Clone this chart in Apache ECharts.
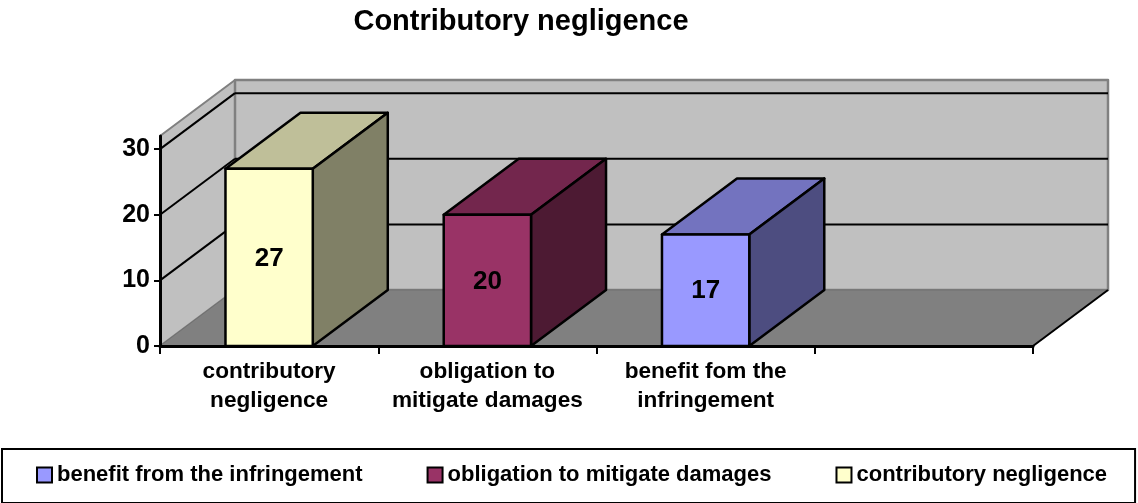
<!DOCTYPE html>
<html>
<head>
<meta charset="utf-8">
<style>
  html, body { margin: 0; padding: 0; background: #fff; }
  #chart { width: 1138px; height: 503px; }
</style>
<script src="https://cdn.jsdelivr.net/npm/echarts@6/dist/echarts.min.js"></script>
</head>
<body>
<div id="chart"></div>
<script>
const categories = ['contributory\nnegligence', 'obligation to\nmitigate damages', 'benefit fom the\ninfringement', '']
const yTicks = [0, 10, 20, 30]
const yTop = 32
const contributory = [27]
const obligation = [20]
const benefit = [17]

// offset of the back plane from the front plane, px
const DX = 75
const DY = -56
const FONT = '"Liberation Sans", Arial, sans-serif'

const chart = echarts.init(document.getElementById('chart'))

function shade(color, k) {
  const c = echarts.color.parse(color)
  return 'rgb(' + Math.round(c[0] * k) + ',' + Math.round(c[1] * k) + ',' + Math.round(c[2] * k) + ')'
}

function poly(points, fill, stroke, width) {
  return {
    type: 'polygon',
    shape: { points: points },
    style: { fill: fill, stroke: stroke, lineWidth: width, lineJoin: 'round' }
  }
}

function line(a, b, color, width) {
  return {
    type: 'line',
    shape: { x1: a[0], y1: a[1], x2: b[0], y2: b[1] },
    style: { stroke: color, lineWidth: width }
  }
}

function renderWalls(params, api) {
  const rect = params.coordSys
  const left = rect.x
  const right = rect.x + rect.width
  const y0 = api.coord([0, 0])[1]
  const y1 = api.coord([0, api.value(0)])[1]
  return {
    type: 'group',
    children: [
      poly([[left, y0], [left + DX, y0 + DY], [left + DX, y1 + DY], [left, y1]], '#c0c0c0', '#808080', 2),
      poly([[left + DX, y0 + DY], [right + DX, y0 + DY], [right + DX, y1 + DY], [left + DX, y1 + DY]], '#c0c0c0', '#808080', 2.5),
      poly([[left, y0], [right, y0], [right + DX, y0 + DY], [left + DX, y0 + DY]], '#808080', '#707070', 1),
      line([right, y0], [right + DX, y0 + DY], '#000', 2)
    ]
  }
}

function renderGridLine(params, api) {
  const rect = params.coordSys
  const y = api.coord([0, api.value(0)])[1]
  return {
    type: 'group',
    children: [
      line([rect.x, y], [rect.x + DX, y + DY], '#000', 2),
      line([rect.x + DX, y + DY], [rect.x + rect.width + DX, y + DY], '#000', 2)
    ]
  }
}

function renderBar(params, api) {
  const top = api.coord([api.value(0), api.value(1)])
  const base = api.coord([api.value(0), 0])
  const w = api.size([1, 0])[0] * 0.4
  const l = top[0] - w / 2
  const r = top[0] + w / 2
  const color = api.visual('color')
  return {
    type: 'group',
    children: [
      poly([[l, top[1]], [r, top[1]], [r + DX, top[1] + DY], [l + DX, top[1] + DY]], shade(color, 0.75), '#000', 2.5),
      poly([[r, top[1]], [r + DX, top[1] + DY], [r + DX, base[1] + DY], [r, base[1]]], shade(color, 0.5), '#000', 2.5),
      poly([[l, base[1]], [r, base[1]], [r, top[1]], [l, top[1]]], color, '#000', 2.5),
      {
        type: 'text',
        style: {
          x: top[0],
          y: (top[1] + base[1]) / 2 + 1,
          text: String(api.value(1)),
          fill: '#000',
          font: 'bold 26px ' + FONT,
          align: 'center',
          verticalAlign: 'middle'
        }
      }
    ]
  }
}

function barSeries(name, index, values, color) {
  return {
    name: name,
    type: 'custom',
    renderItem: renderBar,
    itemStyle: { color: color },
    data: values.map(v => [index, v])
  }
}

const option = {
  animation: false,
  backgroundColor: '#fff',
  title: {
    text: 'Contributory negligence',
    left: 516,
    top: 2,
    textAlign: 'center',
    textStyle: { fontFamily: FONT, fontWeight: 'bold', fontSize: 29, color: '#000' }
  },
  legend: {
    data: ['benefit from the infringement', 'obligation to mitigate damages', 'contributory negligence'],
    left: 2,
    top: 449,
    padding: [15, 28, 17, 34],
    itemGap: 64,
    itemWidth: 15,
    itemHeight: 15,
    icon: 'rect',
    borderColor: '#000',
    borderWidth: 2,
    selectedMode: false,
    itemStyle: { borderColor: '#000', borderWidth: 2 },
    textStyle: { fontFamily: FONT, fontWeight: 'bold', fontSize: 22, color: '#000' }
  },
  grid: { left: 160, right: 105, top: 136, bottom: 157 },
  xAxis: {
    type: 'category',
    data: categories,
    z: 10,
    axisLine: { lineStyle: { color: '#000', width: 3 } },
    axisTick: { show: true, length: 8, lineStyle: { color: '#000', width: 2 } },
    axisLabel: {
      interval: 0,
      margin: 11,
      lineHeight: 29,
      color: '#000',
      fontFamily: FONT,
      fontWeight: 'bold',
      fontSize: 22.6
    }
  },
  yAxis: {
    type: 'value',
    min: 0,
    max: yTop,
    interval: 10,
    z: 10,
    splitLine: { show: false },
    axisLine: { show: true, lineStyle: { color: '#000', width: 3 } },
    axisTick: { show: true, length: 6, customValues: yTicks, lineStyle: { color: '#000', width: 2 } },
    axisLabel: {
      customValues: yTicks,
      margin: 10,
      color: '#000',
      fontFamily: FONT,
      fontWeight: 'bold',
      fontSize: 25
    }
  },
  series: [
    { type: 'custom', renderItem: renderWalls, silent: true, data: [[yTop]], encode: { y: 0 } },
    { type: 'custom', renderItem: renderGridLine, silent: true, data: yTicks.slice(1).map(v => [v]), encode: { y: 0 } },
    barSeries('contributory negligence', 0, contributory, '#ffffcc'),
    barSeries('obligation to mitigate damages', 1, obligation, '#993366'),
    barSeries('benefit from the infringement', 2, benefit, '#9999ff')
  ]
}

chart.setOption(option)
</script>
</body>
</html>
